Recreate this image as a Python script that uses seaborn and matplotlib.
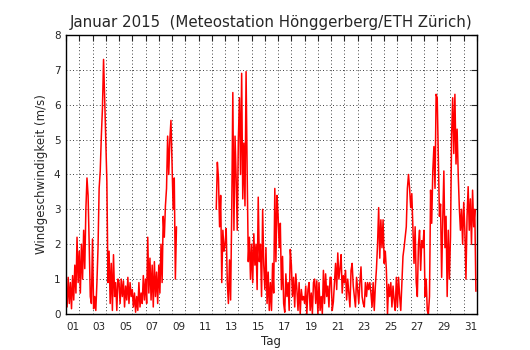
import numpy as np
import pandas as pd
import seaborn as sb
import matplotlib.pyplot as plt

nan = np.nan

hours = list(range(0, 24, 2))
wind_by_day = [
    [0.75, 0.2, 1.05, 0.3, 0.9, 0.15, 1.1, 0.4, 1.4, 0.6, 2.2, 0.9],      # 01
    [1.8, 0.6, 2.0, 1.0, 2.4, 1.3, 3.0, 3.9, 3.4, 2.0, 0.5, 0.3],         # 02
    [2.15, 0.15, 0.5, 0.1, 0.9, 1.9, 3.6, 4.1, 5.1, 5.9, 7.3, 6.2],       # 03
    [5.0, 3.8, 0.9, 1.8, 0.3, 1.45, 0.1, 1.7, 0.5, 0.9, 0.1, 1.0],        # 04
    [0.9, 0.3, 1.0, 0.5, 0.95, 0.2, 0.8, 0.4, 1.05, 0.3, 0.9, 0.5],       # 05
    [0.7, 0.2, 0.6, 0.05, 0.5, 0.1, 0.9, 0.2, 0.6, 0.3, 1.1, 0.4],        # 06
    [1.0, 0.3, 2.2, 0.6, 1.6, 0.4, 1.4, 0.2, 1.5, 0.5, 1.2, 0.3],         # 07
    [1.4, 0.6, 2.0, 0.9, 2.8, 2.2, 3.1, 3.6, 5.1, 4.0, 5.0, 5.55],        # 08
    [4.3, 3.0, 3.9, 1.0, 2.5, nan, nan, nan, nan, nan, nan, nan],         # 09
    [nan] * 12,                                                           # 10
    [nan] * 12,                                                           # 11
    [nan, nan, nan, nan, 3.0, 4.35, 3.9, 2.5, 3.4, 0.9, 2.4, 1.8],        # 12
    [2.0, 2.45, 0.9, 0.3, 1.55, 0.4, 2.9, 6.35, 2.4, 5.1, 3.9, 2.4],      # 13
    [5.0, 6.2, 4.0, 6.9, 3.3, 4.9, 3.1, 6.95, 4.0, 1.5, 2.2, 1.0],        # 14
    [2.0, 0.9, 2.3, 1.4, 2.0, 0.7, 3.35, 1.5, 2.0, 0.5, 3.0, 1.4],        # 15
    [0.7, 1.9, 0.3, 1.2, 0.1, 0.9, 0.1, 1.45, 0.6, 3.6, 1.5, 3.4],        # 16
    [2.8, 1.9, 2.6, 0.7, 1.65, 0.3, 0.05, 1.15, 0.5, 0.9, 0.1, 1.85],     # 17
    [1.4, 0.5, 1.05, 0.2, 1.15, 0.7, 0.1, 0.9, 0.0, 0.7, 0.4, 0.5],       # 18
    [0.3, 0.8, 0.0, 0.7, 0.9, 0.1, 0.6, 0.0, 0.9, 1.0, 0.3, 0.95],        # 19
    [0.0, 0.9, 0.1, 0.5, 0.0, 1.25, 0.3, 1.15, 0.5, 0.8, 0.2, 1.05],      # 20
    [1.05, 0.1, 0.35, 0.9, 1.45, 0.7, 1.75, 1.0, 1.3, 1.7, 0.6, 1.1],     # 21
    [0.9, 1.25, 0.4, 1.0, 0.6, 0.2, 1.25, 1.45, 0.8, 0.5, 0.2, 1.05],     # 22
    [0.7, 0.3, 0.9, 1.35, 0.5, 0.3, 0.2, 0.9, 0.5, 0.9, 0.7, 0.9],        # 23
    [0.6, 0.2, 0.9, 0.1, 0.8, 1.3, 2.0, 3.05, 1.6, 2.7, 1.9, 2.7],        # 24
    [1.45, 1.8, 1.25, 0.0, 0.85, 0.5, 0.9, 0.2, 0.8, 0.4, 0.1, 1.05],     # 25
    [0.2, 1.05, 0.5, 0.1, 0.9, 1.65, 1.9, 2.2, 2.5, 3.6, 4.0, 3.6],       # 26
    [3.05, 3.45, 2.4, 1.45, 2.5, 0.9, 0.5, 2.0, 2.4, 1.25, 2.1, 1.9],     # 27
    [2.4, 0.5, 1.0, 0.1, 0.0, 0.5, 3.55, 2.6, 4.1, 4.8, 3.6, 6.3],        # 28
    [6.2, 4.5, 2.8, 3.15, 1.05, 2.7, 4.1, 1.9, 2.8, 0.5, 2.4, 1.0],       # 29
    [2.2, 5.1, 6.2, 4.6, 6.3, 4.3, 5.3, 4.0, 3.05, 2.4, 3.0, 2.0],        # 30
    [3.2, 2.4, 1.0, 2.8, 3.65, 2.4, 3.3, 2.0, 3.55, 2.5, 3.0, 0.65],      # 31
]
day_labels = ['%02d' % d for d in range(1, 32, 2)]
title = 'Januar 2015  (Meteostation Hönggerberg/ETH Zürich)'

# long table, a new segment starts after each data gap
rows = []
seg = 0
gap = False
for d, vals in enumerate(wind_by_day):
    for h, v in zip(hours, vals):
        if np.isnan(v):
            gap = True
            continue
        if gap and rows:
            seg += 1
        gap = False
        rows.append({'tag': d + h / 24, 'wind': v, 'segment': seg})
df = pd.DataFrame(rows)

sb.set_style('white')
plt.rcParams['font.family'] = ['DejaVu Sans']

fig = plt.figure(figsize=(5.3, 3.5), dpi=100, facecolor='white')
ax = fig.add_axes([0.1245, 0.103, 0.7755, 0.797])

sb.lineplot(data=df, x='tag', y='wind', units='segment', estimator=None,
            color='red', lw=1.1, ax=ax, legend=False)

ax.set_xlim(0, 31)
ax.set_ylim(0, 8)
ax.set_xticks(range(0, 32))
ax.set_xticklabels([])
ax.set_xticks([0.5 + 2 * i for i in range(16)], minor=True)
ax.set_xticklabels(day_labels, minor=True)
ax.set_yticks(range(0, 9))
ax.grid(True, which='major', color='k', linestyle=(0, (1, 3)), lw=0.6)
ax.tick_params(which='major', direction='in', top=True, right=True,
               length=4, width=0.8, labelsize=7.5, pad=4)
ax.tick_params(which='minor', length=0, labelsize=7.5, pad=6)
for s in ax.spines.values():
    s.set_color('k')
    s.set_linewidth(1)

ax.set_xlabel('Tag', fontsize=8.5, labelpad=2)
ax.set_ylabel('Windgeschwindigkeit (m/s)', fontsize=8.5)
ax.set_title(title, fontsize=10.8)

plt.savefig('out.png', dpi=100, facecolor='white')
